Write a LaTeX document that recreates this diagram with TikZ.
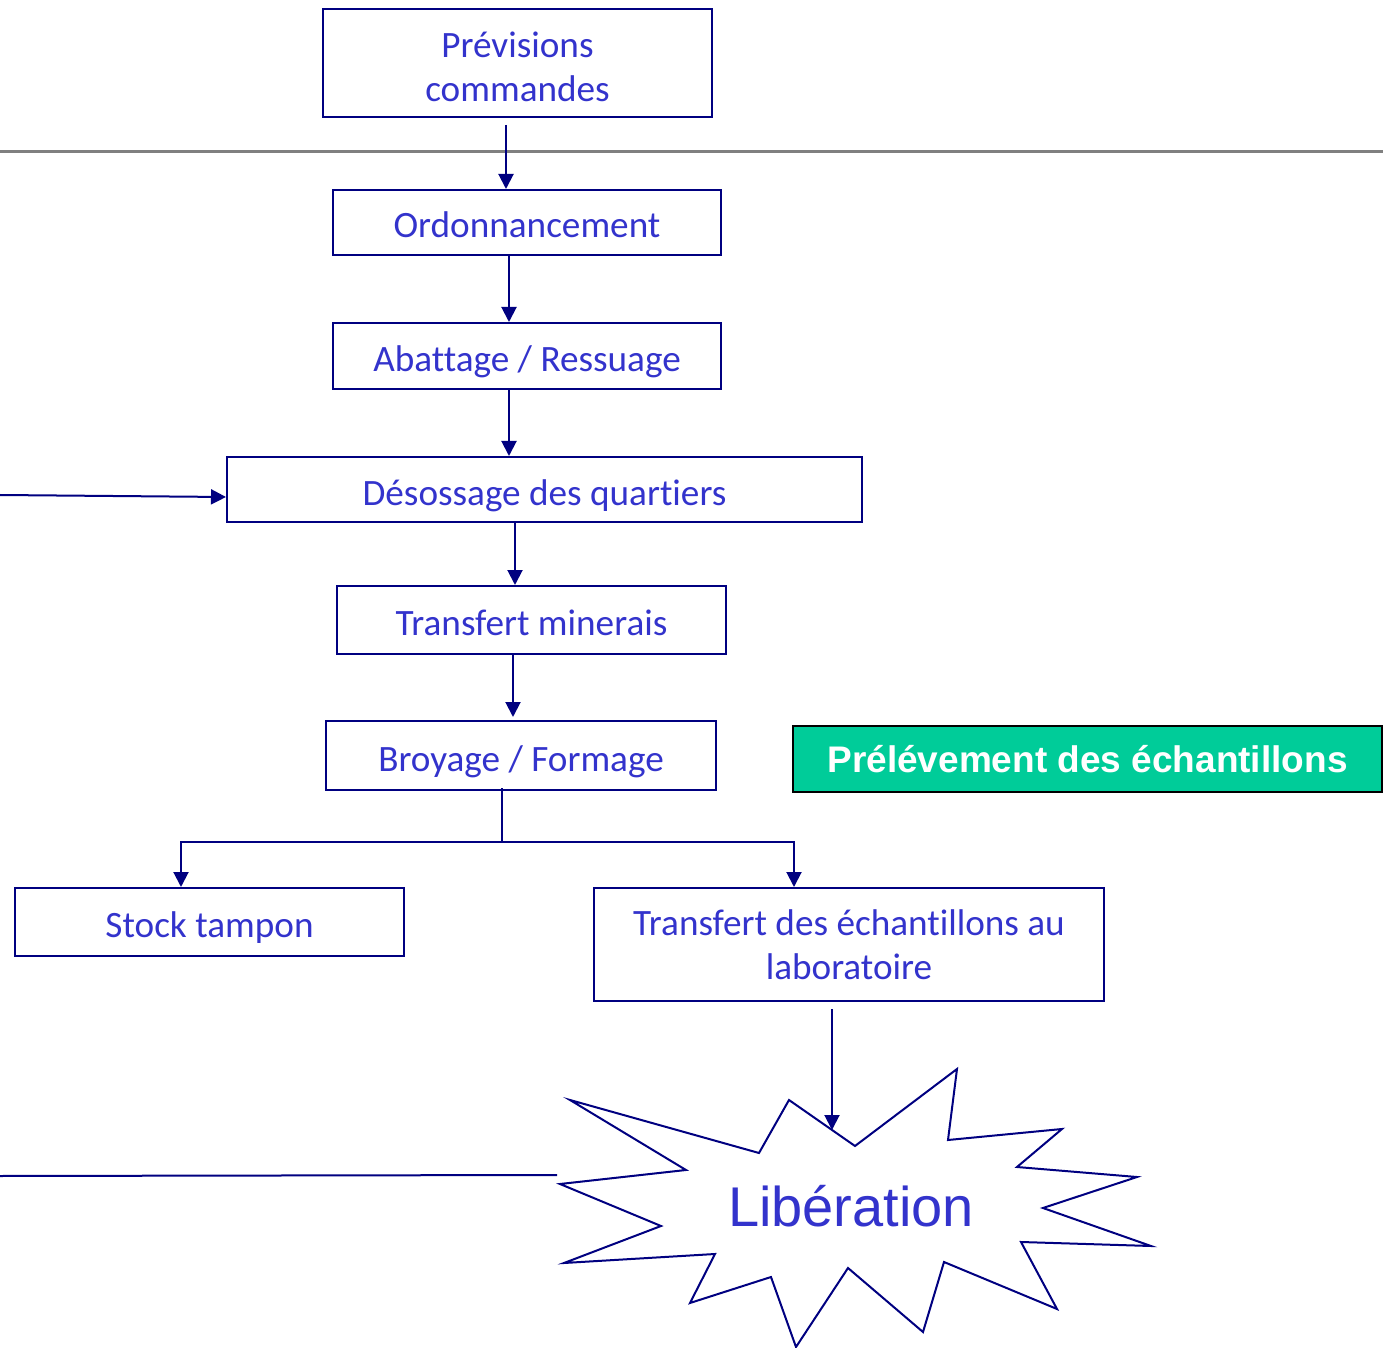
\documentclass[tikz,border=0pt]{standalone}
\usepackage{fontspec}
\setmainfont{Carlito}[Ligatures=CommonOff]
\newfontfamily\arialfont{Liberation Sans}
\usepackage{tikz}
\usetikzlibrary{arrows.meta}
\definecolor{marine}{RGB}{0,0,128}
\definecolor{bleutexte}{RGB}{51,51,204}
\definecolor{vertprel}{RGB}{0,204,153}
\tikzset{etape/.style={draw=marine, line width=1pt, text=bleutexte, inner sep=0pt, align=center, font=\fontsize{18.6}{22}\selectfont}}
\tikzset{uneligne/.style={etape, text height=18pt, text depth=2.5pt}}
\tikzset{fleche/.style={draw=marine, line width=1pt, -{Triangle[length=7.5pt,width=7.5pt]}}}

\begin{document}
\begin{tikzpicture}[x=0.5pt, y=-0.5pt]
    \useasboundingbox (0,0) rectangle (1383,1348);

    \node[etape, text height=38.4pt, text depth=0pt, minimum width=194.5pt, minimum height=54pt] (prev) at (517.5,63) {Prévisions\\commandes};
    \node[uneligne, minimum width=194pt, minimum height=32.5pt]   (ordo)     at (527,222.5)  {Ordonnancement};
    \node[uneligne, minimum width=194pt, minimum height=33pt]     (abat)     at (527,356)    {Abattage / Ressuage};
    \node[uneligne, minimum width=317.5pt, minimum height=32.5pt] (deso)     at (544.5,489.5){Désossage des quartiers};
    \node[uneligne, minimum width=194.5pt, minimum height=34pt]   (transm)   at (531.5,620)  {Transfert minerais};
    \node[uneligne, minimum width=195pt, minimum height=34.5pt]   (broy)     at (521,755.5)  {Broyage / Formage};
    \node[uneligne, minimum width=194.5pt, minimum height=34pt]   (stock)    at (209.5,922)  {Stock tampon};
    \node[etape, minimum width=255pt, minimum height=56.5pt]      (translab) at (849,944.5)  {Transfert des échantillons au\\laboratoire};
    \node[draw=black, fill=vertprel, line width=1pt, text=white, inner sep=0pt,
          font=\arialfont\bfseries\fontsize{18.5}{22}\selectfont,
          minimum width=294.5pt, minimum height=33pt]             (prel)     at (1087.5,759) {Prélévement des échantillons};

    % separation
    \draw[gray, line width=1.5pt] (0,152) -- (1383,152);

    % etoile
    \draw[marine, line width=1pt] (570,1100) -- (759,1153) -- (789,1100) -- (855,1146) -- (957,1069)
        -- (948,1140) -- (1062,1129) -- (1017,1167) -- (1137,1177) -- (1043,1208) -- (1151,1246)
        -- (1021,1242) -- (1057,1309) -- (944,1262) -- (923,1332) -- (848,1268) -- (796,1347)
        -- (771,1277) -- (690,1303) -- (715,1254) -- (564,1263) -- (661,1226) -- (560,1184)
        -- (686,1170) -- cycle;
    \node[text=bleutexte, font=\arialfont\fontsize{28}{30}\selectfont] (lib) at (851,1206) {Libération};

    \coordinate (entree) at (0,495);
    \coordinate (sortie) at (0,1176);

    \draw[fleche] ([xshift=-5.75pt,yshift=-3.5pt]prev.south) -- ([xshift=-10.5pt]ordo.north);
    \draw[fleche] ([xshift=-9pt]ordo.south) -- ([xshift=-9pt]abat.north);
    \draw[fleche] ([xshift=-9pt]abat.south) -- ([xshift=-17.75pt]deso.north);
    \draw[fleche] ([xshift=-14.75pt]deso.south) -- ([xshift=-8.25pt]transm.north);
    \draw[fleche] ([xshift=-9.25pt]transm.south) -- ([xshift=-4pt,yshift=1.5pt]broy.north);
    \draw[fleche] ([xshift=-9.5pt,yshift=1.5pt]broy.south) -- ++(0,54) -| ([xshift=-14.25pt]stock.north);
    \draw[fleche] ([xshift=-9.5pt,yshift=1.5pt]broy.south) -- ++(0,54) -| ([xshift=-27.5pt]translab.north);
    \draw[fleche] ([xshift=-8.5pt,yshift=-3.5pt]translab.south) -- ([xshift=-9.5pt,yshift=38pt]lib.center);
    \draw[fleche] (entree) -- ([yshift=-3.75pt]deso.west);
    \draw[marine, line width=1pt] (sortie) -- ([xshift=-147pt,yshift=15.5pt]lib.center);
\end{tikzpicture}
\end{document}
